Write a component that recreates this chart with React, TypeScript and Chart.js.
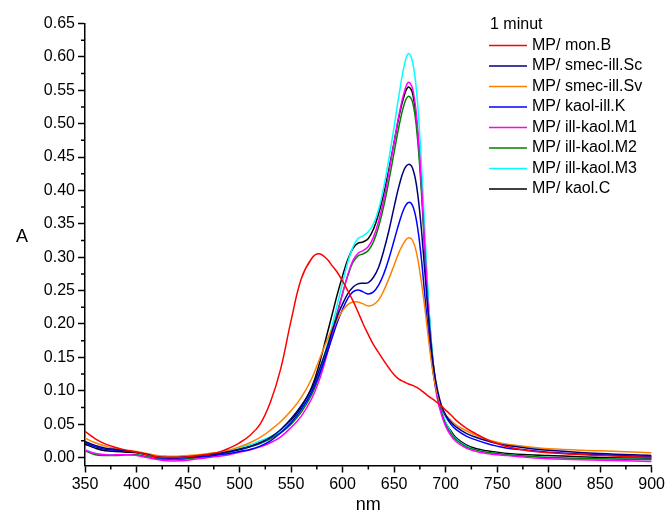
import React, { useEffect, useRef } from "react";
import { Chart, registerables } from "chart.js";

Chart.register(...registerables);

const wavelengths = [350,360,370,380,390,400,410,420,430,440,450,460,470,480,490,500,510,520,530,540,550,560,570,577,585,590,595,600,605,610,615,620,625,630,635,640,645,650,655,660,664,668,672,676,680,684,688,692,696,700,705,710,720,730,740,750,760,780,800,850,900];

const monB = [0.039,0.028,0.020,0.015,0.011,0.008,0.004,0.001,0.000,0.000,0.001,0.003,0.005,0.008,0.014,0.022,0.033,0.050,0.083,0.133,0.205,0.268,0.298,0.305,0.297,0.287,0.277,0.264,0.250,0.235,0.218,0.200,0.184,0.169,0.157,0.145,0.134,0.124,0.117,0.113,0.110,0.108,0.105,0.101,0.096,0.091,0.087,0.082,0.077,0.071,0.064,0.056,0.044,0.035,0.027,0.021,0.016,0.010,0.007,0.003,0.000];

const smecIllSc = [0.024,0.018,0.014,0.012,0.010,0.008,0.005,0.001,0.000,0.000,0.001,0.002,0.004,0.006,0.009,0.012,0.016,0.022,0.030,0.042,0.058,0.078,0.103,0.130,0.165,0.190,0.212,0.230,0.245,0.255,0.260,0.261,0.262,0.270,0.285,0.310,0.340,0.375,0.408,0.432,0.439,0.433,0.405,0.350,0.275,0.200,0.140,0.102,0.078,0.064,0.053,0.046,0.036,0.030,0.025,0.021,0.018,0.014,0.011,0.006,0.003];

const smecIllSv = [0.029,0.022,0.017,0.013,0.011,0.009,0.006,0.003,0.002,0.002,0.003,0.004,0.006,0.008,0.011,0.016,0.022,0.030,0.041,0.054,0.070,0.090,0.118,0.145,0.176,0.193,0.207,0.220,0.229,0.233,0.233,0.230,0.227,0.229,0.236,0.250,0.268,0.288,0.308,0.323,0.329,0.325,0.305,0.268,0.222,0.170,0.125,0.095,0.076,0.064,0.056,0.049,0.040,0.033,0.027,0.023,0.020,0.016,0.013,0.010,0.007];

const kaolIllK = [0.022,0.016,0.012,0.011,0.010,0.008,0.004,0.000,-0.001,-0.001,0.000,0.001,0.002,0.004,0.006,0.009,0.012,0.017,0.025,0.037,0.052,0.072,0.098,0.123,0.157,0.180,0.203,0.222,0.238,0.248,0.251,0.248,0.245,0.248,0.258,0.275,0.298,0.325,0.352,0.374,0.382,0.377,0.352,0.305,0.240,0.178,0.127,0.095,0.075,0.062,0.050,0.042,0.032,0.026,0.021,0.017,0.014,0.011,0.008,0.004,0.001];

const illKaolM1 = [0.011,0.006,0.004,0.004,0.004,0.003,0.000,-0.003,-0.005,-0.005,-0.004,-0.002,0.000,0.002,0.004,0.008,0.011,0.016,0.022,0.031,0.045,0.062,0.088,0.114,0.155,0.185,0.215,0.245,0.273,0.295,0.306,0.310,0.316,0.330,0.354,0.386,0.427,0.472,0.515,0.548,0.562,0.552,0.507,0.423,0.310,0.203,0.130,0.088,0.064,0.047,0.033,0.024,0.014,0.009,0.006,0.004,0.003,0.000,-0.002,-0.004,-0.006];

const illKaolM2 = [0.010,0.004,0.003,0.003,0.004,0.004,0.001,-0.002,-0.003,-0.003,-0.002,0.000,0.002,0.005,0.008,0.012,0.016,0.021,0.028,0.037,0.050,0.068,0.094,0.120,0.160,0.189,0.218,0.246,0.272,0.292,0.302,0.305,0.310,0.323,0.346,0.377,0.415,0.457,0.498,0.530,0.541,0.532,0.490,0.410,0.302,0.200,0.130,0.090,0.067,0.050,0.036,0.027,0.016,0.011,0.008,0.006,0.004,0.002,0.000,-0.002,-0.003];

const illKaolM3 = [0.012,0.006,0.004,0.004,0.004,0.004,0.002,-0.001,-0.002,-0.002,-0.001,0.001,0.003,0.006,0.010,0.015,0.019,0.025,0.031,0.040,0.053,0.072,0.098,0.125,0.168,0.198,0.230,0.262,0.292,0.315,0.328,0.332,0.338,0.350,0.372,0.405,0.448,0.495,0.545,0.588,0.605,0.592,0.545,0.455,0.335,0.220,0.140,0.095,0.070,0.053,0.038,0.028,0.017,0.011,0.008,0.006,0.004,0.002,0.000,-0.002,-0.003];

const kaolC = [0.020,0.014,0.010,0.009,0.008,0.007,0.004,0.001,0.000,0.000,0.001,0.003,0.005,0.007,0.010,0.013,0.017,0.022,0.030,0.040,0.055,0.076,0.105,0.138,0.185,0.215,0.245,0.272,0.296,0.313,0.321,0.323,0.328,0.342,0.365,0.395,0.432,0.472,0.512,0.543,0.555,0.545,0.500,0.420,0.315,0.215,0.140,0.096,0.070,0.052,0.040,0.030,0.019,0.013,0.010,0.008,0.006,0.004,0.003,0.000,-0.001];

const seriesLabels = ["MP/ mon.B","MP/ smec-ill.Sc","MP/ smec-ill.Sv","MP/ kaol-ill.K","MP/ ill-kaol.M1","MP/ ill-kaol.M2","MP/ ill-kaol.M3","MP/ kaol.C"];
const seriesValues = [monB, smecIllSc, smecIllSv, kaolIllK, illKaolM1, illKaolM2, illKaolM3, kaolC];
const seriesColors = ["#ff0000","#000080","#ff8000","#0000ff","#ff00ff","#008000","#00ffff","#000000"];

const legendTitle = "1 minut";
const xTickValues = [350,400,450,500,550,600,650,700,750,800,850,900];
const xMinorValues = [375,425,475,525,575,625,675,725,775,825,875];
const yTickValues = [0,0.05,0.10,0.15,0.20,0.25,0.30,0.35,0.40,0.45,0.50,0.55,0.60,0.65];
const yMinorValues = [0.025,0.075,0.125,0.175,0.225,0.275,0.325,0.375,0.425,0.475,0.525,0.575,0.625];

const FONT = "'Liberation Sans', Arial, sans-serif";

const decorPlugin = {
  id: "decor",
  afterDraw(chart: any) {
    const ctx = chart.ctx;
    const xs = chart.scales.x;
    const ys = chart.scales.y;
    const area = chart.chartArea;
    ctx.save();
    ctx.strokeStyle = "#000";
    ctx.lineWidth = 1.5;
    ctx.beginPath();
    xMinorValues.forEach((v) => {
      const px = xs.getPixelForValue(v);
      ctx.moveTo(px, area.bottom);
      ctx.lineTo(px, area.bottom + 4);
    });
    yMinorValues.forEach((v) => {
      const py = ys.getPixelForValue(v);
      ctx.moveTo(area.left - 4, py);
      ctx.lineTo(area.left, py);
    });
    ctx.stroke();
    ctx.fillStyle = "#000";
    ctx.font = `18px ${FONT}`;
    ctx.textAlign = "center";
    ctx.textBaseline = "middle";
    ctx.fillText("A", 22, 237);
    ctx.font = `16px ${FONT}`;
    ctx.textAlign = "left";
    ctx.fillText(legendTitle, 490, 25);
    chart.data.datasets.forEach((ds: any, i: number) => {
      const y = 45.5 + i * 20.5;
      ctx.strokeStyle = ds.borderColor;
      ctx.lineWidth = 1.5;
      ctx.beginPath();
      ctx.moveTo(489, y);
      ctx.lineTo(527, y);
      ctx.stroke();
      ctx.fillStyle = "#000";
      ctx.fillText(ds.label, 532, y);
    });
    ctx.restore();
  },
};

export default function App() {
  const canvasRef = useRef<HTMLCanvasElement | null>(null);

  useEffect(() => {
    if (!canvasRef.current) return;
    const datasets = seriesLabels.map((label, si) => ({
      label,
      data: wavelengths.map((x, i) => ({ x, y: seriesValues[si][i] })),
      borderColor: seriesColors[si],
      backgroundColor: seriesColors[si],
      borderWidth: 1.5,
      pointRadius: 0,
      fill: false,
      tension: 0.4,
    }));
    const chart = new Chart(canvasRef.current, {
      type: "line",
      data: { datasets },
      options: {
        responsive: false,
        animation: false,
        layout: { padding: { left: 0, right: 14, top: 23.5, bottom: 0 } },
        plugins: { legend: { display: false }, tooltip: { enabled: false } },
        scales: {
          x: {
            type: "linear",
            min: 350,
            max: 900,
            afterBuildTicks: (s: any) => {
              s.ticks = xTickValues.map((v) => ({ value: v }));
            },
            afterFit: (s: any) => {
              s.height = 51.5;
            },
            grid: { drawOnChartArea: false, drawTicks: true, tickLength: 7, tickColor: "#000", tickWidth: 1.5 },
            border: { display: true, color: "#000", width: 1.5 },
            ticks: {
              font: { family: FONT, size: 16 },
              color: "#000",
              padding: 2,
              maxRotation: 0,
              autoSkip: false,
              callback: (v: any) => String(v),
            },
            title: {
              display: true,
              text: "nm",
              font: { family: FONT, size: 18 },
              color: "#000",
              padding: { top: 0, bottom: 1 },
            },
          },
          y: {
            type: "linear",
            min: -0.012,
            max: 0.65,
            afterBuildTicks: (s: any) => {
              s.ticks = yTickValues.map((v) => ({ value: v }));
            },
            afterFit: (s: any) => {
              s.width = 85;
            },
            grid: { drawOnChartArea: false, drawTicks: true, tickLength: 7, tickColor: "#000", tickWidth: 1.5 },
            border: { display: true, color: "#000", width: 1.5 },
            ticks: {
              font: { family: FONT, size: 16 },
              color: "#000",
              padding: 3,
              autoSkip: false,
              callback: (v: any) => Number(v).toFixed(2),
            },
            title: { display: false },
          },
        },
      },
      plugins: [decorPlugin],
    });
    return () => chart.destroy();
  }, []);

  return (
    <div style={{ position: "absolute", left: 0, top: 0, width: 667, height: 517, background: "#fff" }}>
      <canvas ref={canvasRef} width={667} height={517} style={{ display: "block" }} />
    </div>
  );
}
